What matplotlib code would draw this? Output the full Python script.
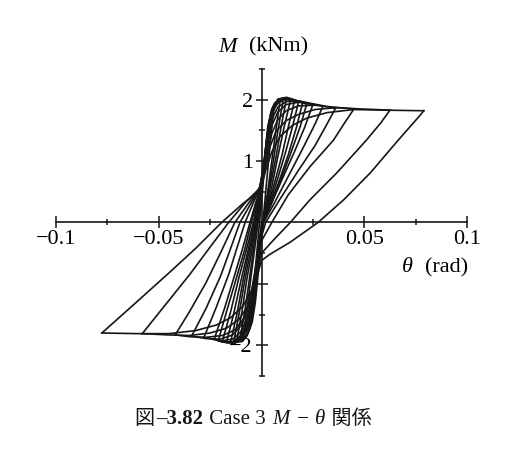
import matplotlib
matplotlib.use("Agg")
import matplotlib.pyplot as plt
from matplotlib.offsetbox import TextArea, HPacker, AnnotationBbox

asc_theta = [
    [-0.0777, -0.0616, -0.045, -0.032, -0.0194, -0.010, -0.003, 0.0, 0.002, 0.005, 0.009, 0.015, 0.022, 0.032, 0.045, 0.060, 0.079],
    [-0.058, -0.047, -0.035, -0.025, -0.016, -0.008, -0.002, 0.0, 0.002, 0.004, 0.007, 0.012, 0.018, 0.026, 0.036, 0.048, 0.0625],
    [-0.042, -0.035, -0.027, -0.020, -0.013, -0.006, -0.001, 0.001, 0.003, 0.005, 0.008, 0.012, 0.018, 0.026, 0.035, 0.045],
    [-0.034, -0.027, -0.020, -0.015, -0.0105, -0.005, -0.001, 0.001, 0.003, 0.005, 0.008, 0.012, 0.018, 0.026, 0.036],
    [-0.028, -0.022, -0.016, -0.012, -0.008, -0.004, -0.001, 0.001, 0.003, 0.005, 0.008, 0.012, 0.018, 0.024, 0.030],
    [-0.023, -0.018, -0.013, -0.009, -0.0056, -0.003, -0.001, 0.001, 0.003, 0.005, 0.008, 0.012, 0.018, 0.025],
    [-0.021, -0.017, -0.012, -0.008, -0.005, -0.0025, -0.0005, 0.001, 0.0025, 0.0045, 0.007, 0.011, 0.016, 0.022],
    [-0.019, -0.015, -0.011, -0.007, -0.004, -0.002, 0.0, 0.0015, 0.003, 0.005, 0.008, 0.012, 0.016, 0.020],
    [-0.017, -0.0135, -0.010, -0.0065, -0.0035, -0.0015, 0.0, 0.0015, 0.0035, 0.0055, 0.0085, 0.012, 0.015, 0.018],
    [-0.015, -0.012, -0.009, -0.006, -0.003, -0.0015, 0.0, 0.0015, 0.003, 0.005, 0.008, 0.011, 0.014, 0.016],
    [-0.0135, -0.011, -0.008, -0.005, -0.0025, -0.001, 0.0005, 0.002, 0.0035, 0.0055, 0.008, 0.011, 0.014],
    [-0.012, -0.0095, -0.007, -0.0045, -0.0025, -0.001, 0.0005, 0.002, 0.0035, 0.0055, 0.008, 0.010, 0.012],
    [-0.0105, -0.008, -0.006, -0.004, -0.002, -0.0005, 0.001, 0.0025, 0.004, 0.006, 0.0085, 0.0105],
    [-0.009, -0.007, -0.005, -0.003, -0.0015, 0.0, 0.0015, 0.003, 0.0045, 0.0065, 0.009],
    [-0.006, -0.0045, -0.003, -0.0015, 0.0, 0.0015, 0.003, 0.0045, 0.006],
]
asc_m = [
    [-1.80, -1.32, -0.82, -0.42, 0.0, 0.28, 0.47, 0.58, 0.85, 1.15, 1.40, 1.58, 1.70, 1.79, 1.84, 1.83, 1.82],
    [-1.81, -1.35, -0.85, -0.40, 0.0, 0.32, 0.52, 0.62, 0.92, 1.22, 1.48, 1.66, 1.76, 1.84, 1.87, 1.85, 1.83],
    [-1.83, -1.45, -0.98, -0.50, 0.0, 0.33, 0.55, 0.80, 1.15, 1.45, 1.68, 1.82, 1.90, 1.91, 1.88, 1.85],
    [-1.85, -1.40, -0.88, -0.42, 0.0, 0.32, 0.55, 0.85, 1.25, 1.58, 1.80, 1.92, 1.96, 1.92, 1.86],
    [-1.87, -1.38, -0.85, -0.42, 0.0, 0.32, 0.55, 0.90, 1.35, 1.68, 1.88, 1.97, 1.98, 1.94, 1.90],
    [-1.90, -1.40, -0.85, -0.40, 0.0, 0.30, 0.52, 0.95, 1.45, 1.78, 1.95, 2.01, 1.98, 1.92],
    [-1.92, -1.45, -0.88, -0.42, 0.0, 0.30, 0.50, 0.88, 1.35, 1.72, 1.92, 2.02, 1.99, 1.93],
    [-1.93, -1.45, -0.90, -0.40, 0.0, 0.30, 0.55, 1.00, 1.45, 1.80, 1.97, 2.03, 2.00, 1.95],
    [-1.95, -1.48, -0.95, -0.45, 0.0, 0.32, 0.58, 1.02, 1.52, 1.84, 1.99, 2.04, 2.01, 1.96],
    [-1.94, -1.50, -0.95, -0.45, 0.0, 0.28, 0.55, 1.05, 1.55, 1.85, 2.00, 2.03, 2.00, 1.97],
    [-1.95, -1.50, -0.92, -0.40, 0.05, 0.35, 0.68, 1.15, 1.58, 1.86, 2.01, 2.03, 1.98],
    [-1.92, -1.45, -0.90, -0.42, 0.0, 0.32, 0.70, 1.20, 1.62, 1.88, 2.00, 2.02, 1.99],
    [-1.90, -1.42, -0.95, -0.45, 0.02, 0.40, 0.82, 1.30, 1.68, 1.92, 2.01, 1.99],
    [-1.88, -1.40, -0.85, -0.35, 0.05, 0.45, 0.95, 1.45, 1.78, 1.95, 1.98],
    [-1.75, -1.30, -0.75, -0.20, 0.35, 0.90, 1.40, 1.72, 1.85],
]
desc_theta = [
    [0.079, 0.0765, 0.0665, 0.053, 0.040, 0.0275, 0.014, 0.004, 0.0, -0.002, -0.005, -0.009, -0.015, -0.022, -0.032, -0.045, -0.060, -0.0777],
    [0.0625, 0.058, 0.051, 0.0367, 0.0236, 0.014, 0.006, 0.0, -0.002, -0.004, -0.007, -0.011, -0.017, -0.025, -0.035, -0.046, -0.058],
    [0.045, 0.040, 0.035, 0.0236, 0.013, 0.005, 0.0, -0.002, -0.004, -0.006, -0.009, -0.013, -0.019, -0.027, -0.035, -0.042],
    [0.036, 0.031, 0.026, 0.018, 0.009, 0.002, -0.001, -0.003, -0.005, -0.007, -0.010, -0.014, -0.020, -0.027, -0.034],
    [0.030, 0.026, 0.020, 0.013, 0.006, 0.001, -0.001, -0.003, -0.005, -0.007, -0.010, -0.014, -0.020, -0.028],
    [0.025, 0.021, 0.016, 0.010, 0.004, 0.0, -0.001, -0.003, -0.005, -0.007, -0.010, -0.014, -0.019, -0.023],
    [0.022, 0.019, 0.015, 0.010, 0.005, 0.001, -0.001, -0.0025, -0.0045, -0.0065, -0.0095, -0.013, -0.017, -0.021],
    [0.020, 0.017, 0.013, 0.008, 0.003, 0.0, -0.0015, -0.003, -0.005, -0.007, -0.010, -0.013, -0.016, -0.019],
    [0.018, 0.015, 0.0115, 0.007, 0.0025, 0.0, -0.0015, -0.003, -0.005, -0.007, -0.010, -0.013, -0.017],
    [0.016, 0.013, 0.010, 0.006, 0.002, 0.0, -0.0015, -0.003, -0.005, -0.007, -0.010, -0.013, -0.015],
    [0.014, 0.011, 0.008, 0.005, 0.002, 0.0, -0.0015, -0.003, -0.0045, -0.0065, -0.0095, -0.0135],
    [0.012, 0.0095, 0.007, 0.004, 0.0015, 0.0, -0.0015, -0.003, -0.0045, -0.0065, -0.009, -0.012],
    [0.0105, 0.008, 0.006, 0.0035, 0.0012, -0.0003, -0.0018, -0.0033, -0.005, -0.007, -0.0105],
    [0.009, 0.007, 0.005, 0.003, 0.001, -0.0005, -0.002, -0.0035, -0.0055, -0.0075, -0.009],
    [0.006, 0.0045, 0.003, 0.0015, 0.0, -0.0015, -0.003, -0.0045, -0.006],
]
desc_m = [
    [1.82, 1.72, 1.34, 0.81, 0.37, 0.0, -0.32, -0.52, -0.62, -0.85, -1.12, -1.36, -1.55, -1.67, -1.76, -1.81, -1.81, -1.80],
    [1.83, 1.62, 1.34, 0.81, 0.37, 0.0, -0.28, -0.50, -0.78, -1.08, -1.38, -1.58, -1.72, -1.80, -1.84, -1.83, -1.81],
    [1.85, 1.60, 1.34, 0.91, 0.45, 0.0, -0.30, -0.62, -1.00, -1.32, -1.58, -1.75, -1.84, -1.87, -1.86, -1.83],
    [1.86, 1.55, 1.25, 0.85, 0.38, 0.0, -0.35, -0.75, -1.15, -1.45, -1.68, -1.83, -1.90, -1.89, -1.85],
    [1.90, 1.60, 1.20, 0.75, 0.30, 0.0, -0.40, -0.85, -1.25, -1.55, -1.78, -1.90, -1.93, -1.87],
    [1.92, 1.55, 1.15, 0.70, 0.25, 0.0, -0.35, -0.85, -1.30, -1.62, -1.84, -1.94, -1.95, -1.90],
    [1.93, 1.58, 1.20, 0.75, 0.32, 0.0, -0.38, -0.80, -1.25, -1.58, -1.82, -1.94, -1.96, -1.92],
    [1.95, 1.55, 1.10, 0.62, 0.20, -0.05, -0.40, -0.88, -1.35, -1.68, -1.88, -1.96, -1.96, -1.93],
    [1.96, 1.55, 1.12, 0.62, 0.18, -0.08, -0.42, -0.92, -1.40, -1.72, -1.90, -1.97, -1.95],
    [1.97, 1.55, 1.10, 0.60, 0.15, -0.10, -0.45, -0.95, -1.45, -1.75, -1.92, -1.96, -1.94],
    [1.98, 1.55, 1.08, 0.58, 0.15, -0.12, -0.50, -1.00, -1.45, -1.78, -1.94, -1.95],
    [1.99, 1.55, 1.05, 0.55, 0.12, -0.15, -0.55, -1.05, -1.50, -1.80, -1.93, -1.92],
    [1.99, 1.50, 1.05, 0.52, 0.08, -0.28, -0.72, -1.22, -1.62, -1.84, -1.90],
    [1.98, 1.50, 1.00, 0.50, 0.05, -0.35, -0.85, -1.35, -1.72, -1.87, -1.88],
    [1.85, 1.38, 0.85, 0.30, -0.25, -0.80, -1.30, -1.62, -1.75],
]

x_ticks = [-0.1, -0.05, 0.05, 0.1]
x_ticklabels = ["\u22120.1", "\u22120.05", "0.05", "0.1"]
y_ticks = [-2, -1, 1, 2]
y_ticklabels = ["\u22122", "", "1", "2"]

serif = "Liberation Serif"
ink = "#161616"

fig = plt.figure(figsize=(5.13, 4.76), dpi=100)
W, H = 513, 476
ax = fig.add_axes([56 / W, 1 - 376 / H, 411 / W, 307 / H])

for th, m in zip(asc_theta, asc_m):
    ax.plot(th, m, color=ink, lw=1.2, solid_joinstyle="round")
for th, m in zip(desc_theta, desc_m):
    ax.plot(th, m, color=ink, lw=1.2, solid_joinstyle="round")

ax.set_xlim(-0.1, 0.1)
ax.set_ylim(-2.5, 2.5)
ax.spines["left"].set_position("zero")
ax.spines["bottom"].set_position("zero")
ax.spines["top"].set_visible(False)
ax.spines["right"].set_visible(False)
for s in ("left", "bottom"):
    ax.spines[s].set_linewidth(1.2)
    ax.spines[s].set_color(ink)

ax.set_xticks(x_ticks)
ax.set_xticklabels(x_ticklabels, family=serif, fontsize=16)
ax.set_xticks([-0.075, -0.025, 0.025, 0.075], minor=True)
ax.set_yticks(y_ticks)
ax.set_yticklabels(y_ticklabels, family=serif, fontsize=16)
ax.set_yticks([-2.5, -1.5, -0.5, 0.5, 1.5, 2.5], minor=True)
ax.tick_params(which="major", direction="inout", length=8.5, width=1.1, color=ink, pad=1.5)
ax.tick_params(which="minor", direction="inout", length=5, width=1.1, color=ink)
ax.tick_params(axis="y", which="major", pad=2)

# axis titles
fig.text(228 / W, 1 - 47 / H, "M", family=serif, style="italic", fontsize=16,
         ha="center", va="center")
fig.text(279 / W, 1 - 47 / H, "(kNm)", family=serif, fontsize=16,
         ha="center", va="center")
fig.text(407 / W, 1 - 268 / H, "\u03b8", family=serif, style="italic", fontsize=16,
         ha="center", va="center")
fig.text(447 / W, 1 - 268 / H, "(rad)", family=serif, fontsize=16,
         ha="center", va="center")

# caption
cjk = "Noto Sans CJK JP"
parts = [
    ("\u56f3", dict(family=cjk, size=14.5)),
    ("\u20133.82", dict(family=serif, size=15, weight="bold")),
    (" Case 3 ", dict(family=serif, size=15)),
    ("M", dict(family=serif, size=15, style="italic")),
    (" \u2212 ", dict(family=serif, size=15)),
    ("\u03b8", dict(family=serif, size=15, style="italic")),
    (" \u95a2\u4fc2", dict(family=[cjk, "DejaVu Sans"], size=14.5)),
]
boxes = [TextArea(t, textprops=dict(color=ink, **p)) for t, p in parts]
pack = HPacker(children=boxes, align="baseline", pad=0, sep=1)
ab = AnnotationBbox(pack, (253 / W, 1 - 418 / H), xycoords="figure fraction",
                    frameon=False, box_alignment=(0.5, 0.5))
fig.add_artist(ab)

fig.savefig("out.png", dpi=100)
